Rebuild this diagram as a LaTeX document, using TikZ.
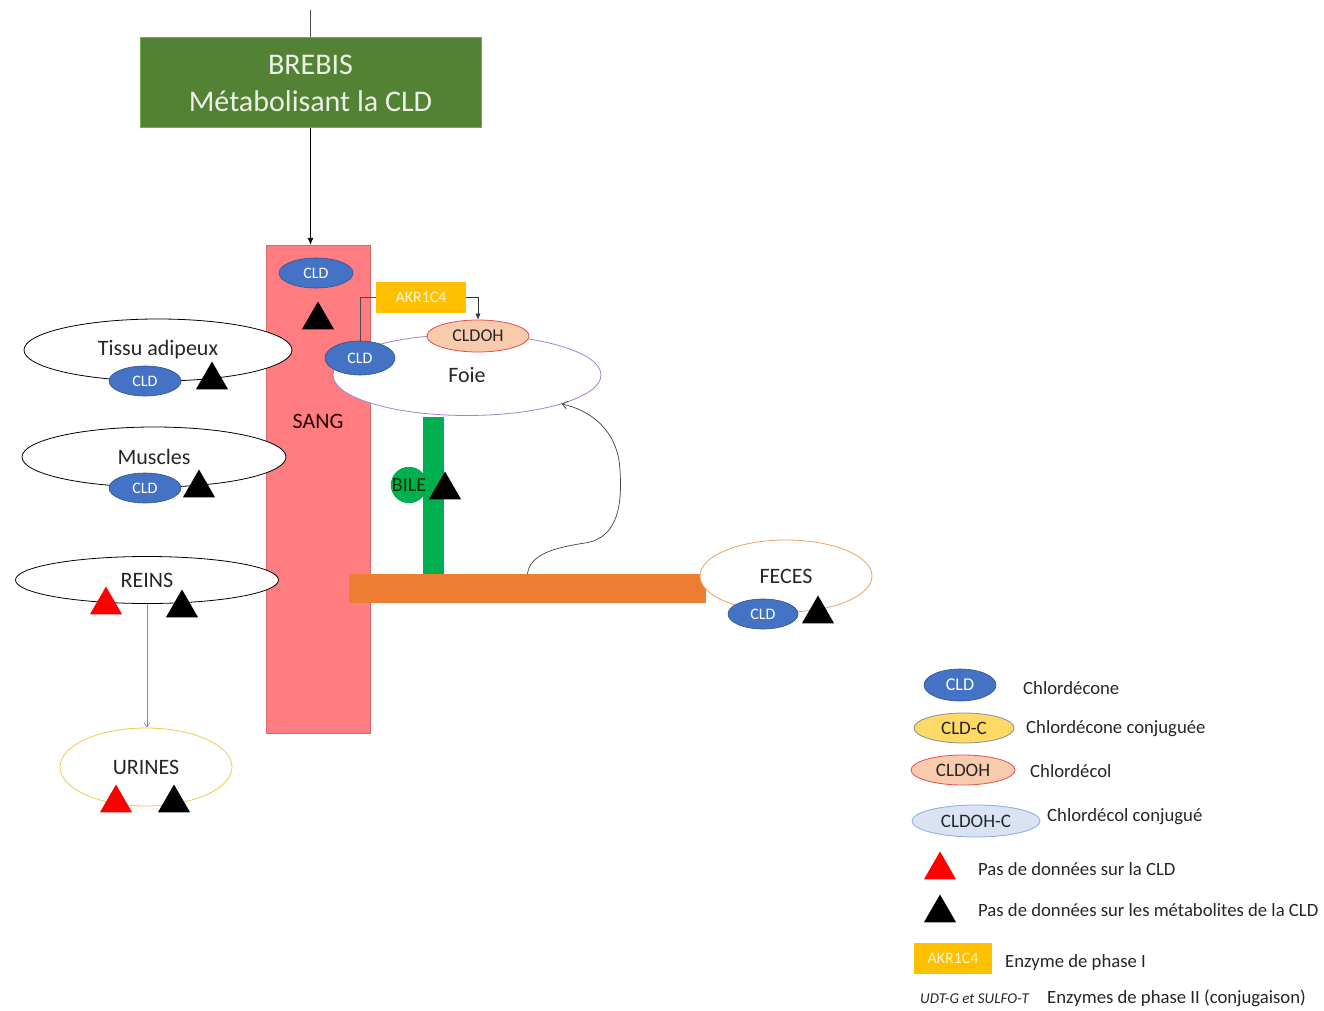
\documentclass[tikz,border=0pt]{standalone}
\usepackage{fontspec}
\setmainfont{Carlito}
\usetikzlibrary{shapes.geometric,arrows.meta}
\definecolor{boxgreen}{HTML}{548235}
\definecolor{boxgreenline}{HTML}{70AD47}
\definecolor{sangred}{HTML}{FF7C80}
\definecolor{cldblue}{HTML}{4472C4}
\definecolor{cldline}{HTML}{2F528F}
\definecolor{akr}{HTML}{FFC000}
\definecolor{cldohfill}{HTML}{F8CBAD}
\definecolor{cldohline}{HTML}{E05050}
\definecolor{foieline}{HTML}{A680D0}
\definecolor{bilegreen}{HTML}{00B050}
\definecolor{orangebar}{HTML}{ED7D31}
\definecolor{fecesline}{HTML}{F0A060}
\definecolor{urinesline}{HTML}{F2C94C}
\definecolor{cldcfill}{HTML}{FFD966}
\definecolor{cldcline}{HTML}{7F8FA8}
\definecolor{cldohcfill}{HTML}{DAE3F3}
\definecolor{cldohcline}{HTML}{8FAADC}
\definecolor{txt}{HTML}{262626}
\newcommand{\fs}[1]{\fontsize{#1}{#1}\selectfont}
\tikzset{
  organ/.style={ellipse, draw=black, line width=0.8pt, fill=white, inner sep=0pt, text=txt, font=\fs{22}},
  cld/.style={ellipse, draw=cldline, line width=0.6pt, fill=cldblue, text=white, inner sep=0pt, minimum width=72, minimum height=30, font=\fs{16}},
  tri/.style={regular polygon, regular polygon sides=3, fill=black, inner sep=0pt, minimum size=37},
  rtri/.style={tri, fill=red},
  legtxt/.style={anchor=west, text=txt, font=\fs{18.7}, inner sep=0pt},
  legell/.style={ellipse, line width=0.8pt, text=txt, inner sep=0pt, font=\fs{19}},
  akrbox/.style={rectangle, fill=akr, text=white!85!akr, inner sep=0pt, font=\fs{16}},
}
\begin{document}
\begin{tikzpicture}[x=1pt,y=-1pt]
\useasboundingbox[fill=white] (0,0) rectangle (1324,1011);

% BREBIS box
\node[rectangle, fill=boxgreen, draw=boxgreenline, line width=1pt, minimum width=341, minimum height=90, inner sep=0pt, text=white!88!boxgreen, font=\fontsize{30}{37}\selectfont, align=center] (brebis) at (310.5,83) {BREBIS\\Métabolisant la CLD};
\coordinate (top) at (310.5,10);
\draw[line width=0.6pt, black!70] (top) -- (brebis.north);

% SANG
\node[rectangle, fill=sangred, draw=sangred!85!black, line width=0.5pt, minimum width=104, minimum height=488, inner sep=0pt] (sang) at (318,489) {};
\node[text=black!75!red!60!black, font=\fs{22}, inner sep=0pt] (sangtxt) at (318,421) {SANG};
\draw[line width=0.6pt, -{Latex[length=7pt,width=6pt]}] (brebis.south) -- (brebis.south |- sang.north);
\node[cld, minimum width=74] (cldsang) at (316,273) {CLD};
\node[tri] (trisang) at (318,320) {};

% Tissu adipeux
\node[organ, minimum width=268, minimum height=62] (tissu) at (158,350) {Tissu adipeux};
\node[cld] (cldtissu) at (145,381) {CLD};
\node[tri] (tritissu) at (212,380) {};

% Muscles
\node[organ, minimum width=264, minimum height=60] (muscles) at (154,457) {Muscles};
\node[cld] (cldmus) at (145,488) {CLD};
\node[tri] (trimus) at (199,488) {};

% REINS
\node[organ, minimum width=263, minimum height=47] (reins) at (147,580) {REINS};
\node[rtri] (rtrireins) at (106,605) {};
\node[tri] (trireins) at (182,608) {};

% URINES
\node[organ, draw=urinesline, minimum width=172, minimum height=78] (urines) at (146,767) {URINES};
\node[rtri] (rtriur) at (116,803) {};
\node[tri] (triur) at (174,803) {};
\draw[line width=0.5pt, black!45, -{Straight Barb[length=5pt,width=6pt]}] (reins.south) -- (reins.south |- urines.north);

% Foie
\node[organ, draw=foieline, minimum width=268, minimum height=81] (foie) at (467,375) {Foie};
\node[ellipse, draw=cldohline, line width=0.8pt, fill=cldohfill, text=txt, inner sep=0pt, minimum width=102, minimum height=32, font=\fs{18}] (cldoh) at (478,336) {CLDOH};
\node[cld, minimum width=70, minimum height=34] (cldfoie) at (360,358) {CLD};
\node[akrbox, minimum width=90, minimum height=31] (akr) at (421,297.5) {AKR1C4};
\draw[line width=0.5pt, black!70] (cldfoie.north) |- (akr.west);
\draw[line width=0.5pt, black!80, -{Latex[length=6pt,width=5pt]}] (akr.east) -| (cldoh.north);

% Bile
\node[rectangle, fill=bilegreen, minimum width=21, minimum height=158, inner sep=0pt] (bileduct) at (433.5,496) {};
\node[circle, fill=bilegreen, minimum size=36, inner sep=0pt, text=black!80!green, font=\fs{20}] (bile) at (409,485) {BILE};
\node[tri] (tribile) at (445,490) {};

% Orange bar (intestin)
\node[rectangle, fill=orangebar, minimum width=357, minimum height=29, inner sep=0pt] (intestin) at (527.5,588.5) {};
\draw[line width=0.7pt, black!75, -{Straight Barb[length=5pt,width=8pt]}] (intestin.north) .. controls (530,555) and (552,548) .. (585,543) .. controls (620,538) and (622,500) .. (620,470) .. controls (618,430) and (590,410) .. (foie.-17);

% FECES
\node[organ, draw=fecesline, minimum width=172, minimum height=72] (feces) at (786,576) {FECES};
\node[cld, minimum width=70] (cldfeces) at (763,614) {CLD};
\node[tri] (trifeces) at (818,614) {};

% Legend
\node[cld, minimum height=32, font=\fs{18}] (lcld) at (960,685) {CLD};
\node[legtxt] (lcldt) at (1023,688) {Chlordécone};
\node[legell, draw=cldcline, fill=cldcfill, minimum width=100, minimum height=30] (lcldc) at (964,728) {CLD-C};
\node[legtxt] (lcldct) at (1026,729) {Chlordécone conjuguée};
\node[legell, draw=cldohline, fill=cldohfill, minimum width=104, minimum height=30] (lcldoh) at (963,770) {CLDOH};
\node[legtxt] (lcldoht) at (1030,771) {Chlordécol};
\node[legell, draw=cldohcline, fill=cldohcfill, minimum width=128, minimum height=32] (lcldohc) at (976,821) {CLDOH-C};
\node[legtxt] (lcldohct) at (1047,817) {Chlordécol conjugué};
\node[rtri] (lrtri) at (940,870) {};
\node[legtxt] (lrtrit) at (978,869) {Pas de données sur la CLD};
\node[tri] (ltri) at (940,913) {};
\node[legtxt] (ltrit) at (978,910) {Pas de données sur les métabolites de la CLD};
\node[akrbox, minimum width=78, minimum height=31] (lakr) at (953,958.5) {AKR1C4};
\node[legtxt] (lakrt) at (1005,963) {Enzyme de phase I};
\node[anchor=west, inner sep=0pt, text=txt, font=\fs{15}\itshape] (ludt) at (920,999) {UDT-G et SULFO-T};
\node[legtxt] (ludtt) at (1047,998) {Enzymes de phase II (conjugaison)};
\end{tikzpicture}
\end{document}
